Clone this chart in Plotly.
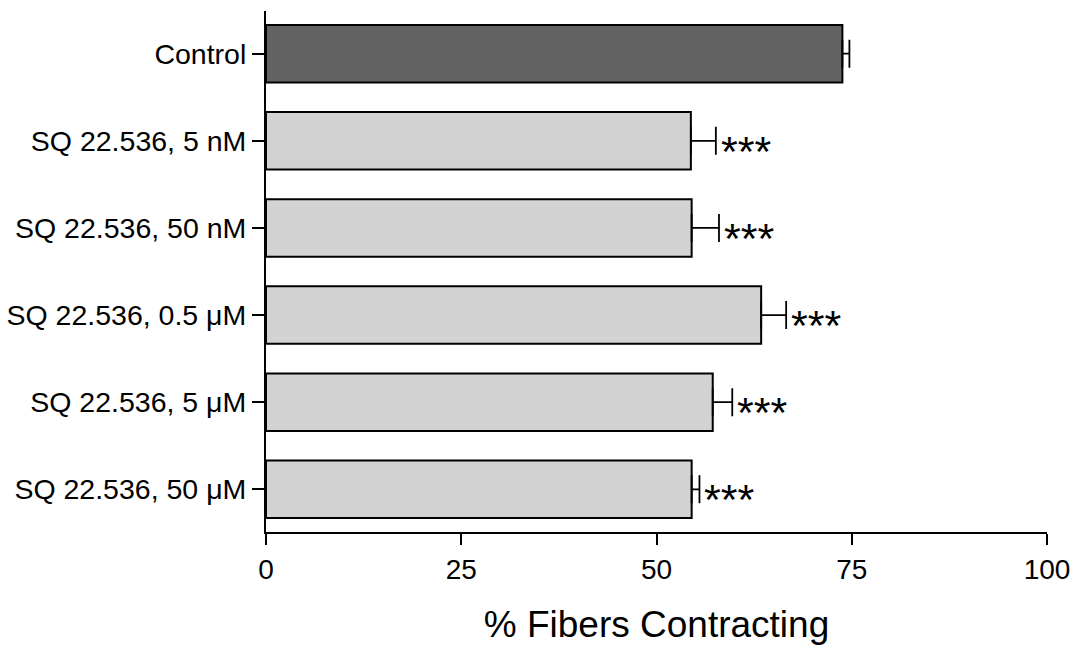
import plotly.graph_objects as go

categories = ["Control", "SQ 22.536, 5 nM", "SQ 22.536, 50 nM",
              "SQ 22.536, 0.5 μM", "SQ 22.536, 5 μM", "SQ 22.536, 50 μM"]
values = [73.8, 54.4, 54.5, 63.4, 57.2, 54.5]
errors = [0.9, 3.2, 3.5, 3.2, 2.5, 1.0]
significance = ["", "***", "***", "***", "***", "***"]
bar_colors = ["#636363", "#d3d3d3", "#d3d3d3", "#d3d3d3", "#d3d3d3", "#d3d3d3"]
x_ticks = [0, 25, 50, 75, 100]

FONT = "Liberation Sans, Arial, sans-serif"

fig = go.Figure()
fig.add_trace(go.Bar(
    y=categories, x=values, orientation="h", width=0.66,
    marker=dict(color=bar_colors, line=dict(color="black", width=2)),
    error_x=dict(type="data", symmetric=False, array=errors,
                 arrayminus=[0] * len(errors), color="black",
                 thickness=1.8, width=14),
    showlegend=False,
))

for cat, v, e, s in zip(categories, values, errors, significance):
    if s:
        fig.add_annotation(x=v + e, y=cat, text=s, showarrow=False,
                           xanchor="left", yanchor="middle", xshift=3, yshift=-10,
                           font=dict(family=FONT, size=43, color="black"))

fig.update_layout(
    width=1078, height=658,
    margin=dict(l=266, r=31, t=11, b=126),
    paper_bgcolor="white", plot_bgcolor="white",
    font=dict(family=FONT, color="black"),
    bargap=0.34,
)
fig.update_xaxes(
    range=[0, 100], tickvals=x_ticks, ticktext=[str(t) for t in x_ticks],
    showgrid=False, zeroline=False, automargin=False,
    showline=True, linecolor="black", linewidth=2,
    ticks="outside", ticklen=11, tickwidth=2, tickcolor="black",
    tickfont=dict(family=FONT, size=28, color="black"),
    title=dict(text="% Fibers Contracting", font=dict(family=FONT, size=37, color="black"),
               standoff=28),
)
fig.update_yaxes(
    categoryorder="array", categoryarray=categories,
    range=[5.49, -0.49],
    showgrid=False, zeroline=False, automargin=False,
    showline=True, linecolor="black", linewidth=2,
    ticks="outside", ticklen=12, tickwidth=1.5, tickcolor="black",
    tickfont=dict(family=FONT, size=28.5, color="black"),
)

fig.write_html("out.html")
